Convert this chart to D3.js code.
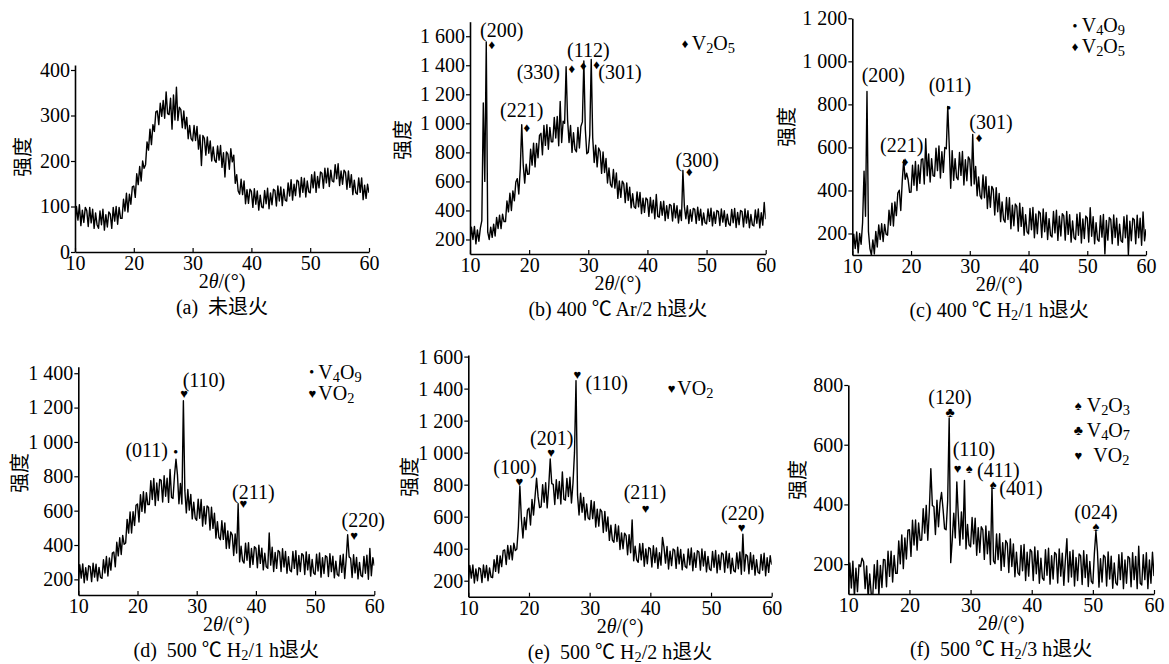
<!DOCTYPE html>
<html>
<head>
<meta charset="utf-8">
<script src="https://cdn.jsdelivr.net/npm/d3@7"></script>
<style>
  body { margin: 0; background: #fff; }
  svg text { font-family: "Liberation Serif", "Noto Sans CJK SC", serif; fill: #000; }
</style>
</head>
<body>
<svg id="chart" width="1169" height="664"></svg>
<script>
// 2theta scan: 10..60 deg, one reading every 0.25 deg
var angleStart = 10, angleStep = 0.25;
var xTicks = [10, 20, 30, 40, 50, 60];

// (a) not annealed
var seriesA = [
  62, 100, 70, 104, 58, 92, 65, 98,
  91, 56, 98, 64, 94, 52, 86, 60,
  52, 90, 60, 94, 48, 82, 55, 88,
  83, 52, 98, 68, 100, 61, 98, 74,
  74, 116, 90, 129, 88, 127, 105, 143,
  145, 120, 172, 148, 188, 156, 200, 184,
  192, 242, 224, 270, 236, 280, 265, 308,
  310, 280, 327, 298, 333, 294, 352, 304,
  302, 338, 270, 345, 290, 362, 289, 318,
  313, 273, 310, 271, 296, 249, 278, 249,
  244, 278, 245, 276, 226, 257, 190, 256,
  250, 213, 253, 217, 244, 200, 231, 202,
  197, 233, 202, 234, 186, 218, 165, 220,
  215, 182, 227, 198, 213, 151, 170, 134,
  127, 160, 126, 156, 106, 137, 107, 138,
  133, 98, 139, 105, 134, 92, 125, 99,
  97, 135, 106, 140, 95, 130, 104, 138,
  135, 101, 145, 112, 143, 102, 138, 114,
  112, 152, 123, 159, 114, 149, 124, 158,
  155, 121, 164, 131, 162, 121, 156, 132,
  130, 170, 141, 176, 131, 166, 141, 176,
  173, 140, 184, 152, 184, 144, 180, 156,
  154, 192, 161, 194, 146, 178, 149, 180,
  175, 138, 178, 142, 170, 126, 158, 130,
  127, 163, 131, 163, 115, 147, 118, 149,
  130
];

// (b) 400 C Ar / 2 h
var seriesB = [
  182, 284, 200, 290, 170, 266, 188, 278,
  330, 1140, 600, 1560, 250, 200, 285, 215,
  306, 224, 352, 276, 368, 275, 374, 323,
  323, 465, 390, 518, 400, 535, 467, 596,
  619, 513, 687, 990, 714, 588, 718, 649,
  651, 821, 712, 864, 700, 862, 763, 917,
  931, 783, 985, 848, 990, 821, 972, 873,
  873, 1041, 899, 1047, 845, 1150, 868, 1015,
  1000, 1390, 1025, 868, 985, 800, 935, 820,
  804, 972, 830, 978, 1010, 1430, 960, 790,
  800, 920, 1440, 900, 730, 850, 700, 830,
  806, 655, 803, 661, 758, 589, 692, 580,
  561, 682, 554, 658, 483, 603, 490, 602,
  583, 454, 590, 469, 560, 418, 515, 425,
  415, 528, 425, 524, 378, 484, 387, 486,
  474, 359, 490, 383, 471, 343, 510, 359,
  353, 461, 367, 463, 330, 432, 345, 442,
  434, 327, 449, 349, 432, 314, 404, 331,
  675, 428, 343, 432, 310, 405, 326, 414,
  407, 310, 423, 332, 408, 299, 382, 315,
  308, 410, 325, 415, 294, 389, 311, 400,
  392, 296, 410, 320, 398, 290, 374, 308,
  296, 407, 315, 413, 283, 387, 302, 400,
  392, 287, 411, 313, 398, 281, 372, 300,
  293, 404, 312, 410, 280, 384, 299, 455,
  340
];

// (c) 400 C H2 / 1 h
var seriesC = [
  110, 197, 130, 207, 110, 200, 150, 250,
  490, 280, 860, 210, 130, 100, 170, 105,
  210, 137, 240, 172, 245, 163, 242, 197,
  192, 308, 238, 341, 235, 346, 283, 388,
  401, 307, 442, 540, 452, 480, 450, 391,
  392, 517, 424, 535, 400, 518, 433, 544,
  547, 430, 640, 468, 570, 439, 548, 469,
  466, 596, 492, 607, 458, 580, 484, 600,
  594, 790, 610, 410, 585, 447, 548, 461,
  450, 576, 470, 581, 425, 543, 445, 556,
  543, 422, 660, 430, 511, 375, 463, 376,
  361, 472, 366, 464, 316, 420, 322, 419,
  404, 286, 413, 301, 386, 255, 347, 265,
  252, 367, 265, 366, 222, 331, 236, 337,
  326, 211, 341, 233, 321, 192, 287, 208,
  198, 316, 217, 321, 180, 291, 199, 303,
  294, 181, 314, 208, 298, 172, 269, 192,
  184, 302, 203, 308, 168, 280, 188, 292,
  282, 169, 302, 196, 287, 160, 258, 180,
  172, 290, 192, 297, 156, 268, 177, 281,
  272, 160, 320, 187, 278, 152, 250, 172,
  164, 283, 183, 289, 105, 260, 169, 274,
  265, 152, 286, 181, 271, 145, 243, 166,
  159, 278, 180, 285, 100, 257, 166, 271,
  264, 152, 285, 180, 271, 145, 300, 166,
  220
];

// (d) 500 C H2 / 1 h
var seriesD = [
  191, 285, 207, 290, 180, 268, 196, 279,
  274, 187, 294, 213, 288, 191, 270, 211,
  206, 314, 237, 333, 220, 324, 254, 353,
  359, 273, 416, 337, 442, 345, 456, 404,
  412, 549, 469, 592, 470, 594, 514, 631,
  639, 534, 693, 596, 710, 587, 705, 635,
  636, 775, 665, 788, 630, 761, 659, 782,
  776, 650, 803, 684, 789, 648, 840, 677,
  671, 805, 900, 808, 640, 758, 639, 1240,
  715, 587, 723, 603, 695, 552, 649, 557,
  544, 667, 556, 665, 510, 625, 522, 628,
  618, 487, 620, 497, 585, 440, 536, 444,
  431, 541, 433, 529, 380, 482, 381, 476,
  459, 339, 465, 353, 640, 302, 393, 309,
  295, 411, 311, 413, 270, 380, 287, 390,
  381, 268, 399, 293, 382, 255, 352, 273,
  264, 470, 283, 387, 246, 356, 264, 368,
  359, 246, 378, 272, 362, 236, 332, 253,
  244, 362, 264, 367, 227, 339, 246, 350,
  341, 228, 360, 255, 345, 219, 316, 237,
  229, 347, 249, 354, 213, 326, 234, 338,
  330, 217, 350, 245, 335, 209, 306, 228,
  220, 339, 241, 346, 205, 317, 460, 331,
  323, 211, 343, 238, 328, 203, 299, 223,
  215, 334, 236, 341, 201, 380, 221, 326,
  280
];

// (e) 500 C H2 / 2 h
var seriesE = [
  202, 295, 216, 298, 186, 273, 200, 281,
  274, 189, 298, 219, 295, 200, 280, 223,
  219, 331, 258, 358, 248, 355, 288, 388,
  392, 301, 420, 335, 418, 330, 434, 388,
  398, 538, 790, 586, 467, 595, 519, 640,
  653, 548, 707, 610, 725, 840, 725, 657,
  661, 800, 690, 812, 655, 786, 960, 807,
  802, 676, 831, 713, 820, 679, 880, 709,
  703, 839, 726, 846, 685, 808, 1000, 1450,
  736, 610, 747, 628, 720, 579, 679, 592,
  582, 702, 588, 693, 535, 647, 541, 646,
  632, 501, 633, 510, 598, 452, 547, 453,
  440, 551, 445, 542, 395, 499, 400, 497,
  482, 362, 488, 375, 580, 324, 415, 330,
  315, 431, 330, 433, 290, 399, 306, 408,
  399, 286, 418, 313, 404, 277, 375, 297,
  470, 408, 310, 414, 273, 385, 294, 398,
  390, 277, 410, 305, 395, 268, 366, 288,
  279, 398, 299, 404, 262, 374, 283, 387,
  379, 266, 398, 292, 382, 255, 352, 273,
  264, 383, 284, 389, 249, 361, 269, 374,
  365, 253, 385, 280, 370, 245, 341, 263,
  255, 374, 275, 380, 240, 490, 260, 364,
  355, 243, 375, 270, 360, 235, 331, 253,
  245, 364, 266, 371, 231, 343, 252, 356,
  300
];

// (f) 500 C H2 / 3 h
var seriesF = [
  102, 204, 120, 210, 90, 186, 108, 198,
  192, 220, 208, 118, 194, 86, 167, 100,
  92, 198, 118, 212, 96, 196, 122, 216,
  214, 124, 243, 159, 243, 140, 229, 169,
  169, 278, 201, 298, 185, 288, 217, 314,
  315, 226, 347, 264, 348, 247, 338, 280,
  281, 386, 304, 397, 280, 379, 520, 396,
  393, 299, 414, 325, 405, 440, 384, 319,
  315, 411, 690, 205, 280, 371, 288, 475,
  360, 263, 375, 284, 480, 251, 333, 265,
  258, 356, 268, 354, 230, 322, 239, 325,
  315, 216, 328, 235, 310, 199, 460, 211,
  202, 301, 215, 302, 179, 272, 192, 279,
  270, 172, 284, 192, 268, 158, 240, 171,
  163, 263, 178, 266, 145, 240, 160, 249,
  242, 145, 258, 168, 245, 136, 220, 153,
  146, 248, 163, 253, 133, 228, 150, 239,
  233, 137, 251, 160, 237, 129, 213, 285,
  140, 242, 157, 247, 127, 222, 145, 234,
  228, 132, 245, 155, 232, 125, 209, 142,
  135, 237, 310, 243, 123, 218, 140, 230,
  223, 127, 241, 150, 227, 119, 204, 137,
  130, 232, 148, 238, 118, 214, 136, 226,
  220, 124, 238, 148, 226, 118, 260, 136,
  130, 232, 148, 238, 118, 214, 136, 240,
  160
];

// peak labels (hkl) and phase markers, in (2theta, intensity)
var notesB = [
  {t: "(200)", x: 15.36, y: 1641}, {t: "(221)", x: 18.74, y: 1090},
  {t: "(330)", x: 21.55, y: 1354}, {t: "(112)", x: 30.0, y: 1504},
  {t: "(301)", x: 35.36, y: 1354}, {t: "(300)", x: 48.43, y: 746}
];
var marksB = [
  {s: "diamond", x: 13.67, y: 1543}, {s: "diamond", x: 19.59, y: 969},
  {s: "diamond", x: 27.2, y: 1378}, {s: "diamond", x: 29.16, y: 1396},
  {s: "diamond", x: 31.42, y: 1405}, {s: "diamond", x: 47.08, y: 670}
];
var legendB = [{s: "diamond", t: "V_2O_5", x: 46.35, tx: 47.49, y: 1550}];

var notesC = [
  {t: "(200)", x: 15.28, y: 936}, {t: "(011)", x: 26.63, y: 890},
  {t: "(221)", x: 18.41, y: 611}, {t: "(301)", x: 33.61, y: 719}
];
var marksC = [
  {s: "dot", x: 26.41, y: 789}, {s: "diamond", x: 18.97, y: 536},
  {s: "diamond", x: 31.57, y: 646}
];
var legendC = [
  {s: "dot", t: "V_4O_9", x: 47.92, tx: 49.05, y: 1169},
  {s: "diamond", t: "V_2O_5", x: 47.92, tx: 49.05, y: 1071}
];

var notesD = [
  {t: "(110)", x: 31.23, y: 1361}, {t: "(011)", x: 21.55, y: 953},
  {t: "(211)", x: 39.56, y: 710}, {t: "(220)", x: 58.14, y: 545}
];
var marksD = [
  {s: "heart", x: 27.86, y: 1283}, {s: "dot", x: 26.45, y: 947},
  {s: "heart", x: 37.87, y: 643}, {s: "heart", x: 56.57, y: 458}
];
var legendD = [
  {s: "dot", t: "V_4O_9", x: 49.42, tx: 50.54, y: 1409},
  {s: "heart", t: "VO_2", x: 49.52, tx: 50.54, y: 1283}
];

var notesE = [
  {t: "(100)", x: 17.7, y: 912}, {t: "(201)", x: 23.74, y: 1090},
  {t: "(110)", x: 32.81, y: 1434}, {t: "(211)", x: 39.12, y: 756},
  {t: "(220)", x: 55.22, y: 621}
];
var marksE = [
  {s: "heart", x: 18.4, y: 823}, {s: "heart", x: 23.63, y: 1000},
  {s: "heart", x: 27.96, y: 1486}, {s: "heart", x: 39.23, y: 652},
  {s: "heart", x: 55.06, y: 534}
];
var legendE = [{s: "heart", t: "VO_2", x: 43.52, tx: 44.44, y: 1402}];

var notesF = [
  {t: "(120)", x: 26.63, y: 761}, {t: "(110)", x: 30.56, y: 587},
  {t: "(411)", x: 34.53, y: 514}, {t: "(401)", x: 38.25, y: 455},
  {t: "(024)", x: 50.51, y: 374}
];
var marksF = [
  {s: "club", x: 26.63, y: 708}, {s: "heart", x: 27.89, y: 522},
  {s: "spade", x: 29.79, y: 520}, {s: "spade", x: 33.72, y: 467},
  {s: "spade", x: 50.51, y: 327}
];
var legendF = [
  {s: "spade", t: "V_2O_3", x: 47.62, tx: 48.99, y: 733},
  {s: "club", t: "V_4O_7", x: 47.62, tx: 48.99, y: 648},
  {s: "heart", t: "VO_2", x: 47.62, tx: 50.07, y: 564}
];

var glyphs = {diamond: "\u2666", dot: "\u25CF", heart: "\u2665", spade: "\u2660", club: "\u2663"};
var glyphSize = {diamond: 13, dot: 8, heart: 13, spade: 13, club: 14};

var panels = [
  {name: "a", series: seriesA, notes: [], marks: [], legend: [], caption: "(a)  未退火",
   box: [75, 369, 65, 252], yDomain: [0, 411], yTicks: [0, 100, 200, 300, 400], yTitle: [23, 157]},
  {name: "b", series: seriesB, notes: notesB, marks: marksB, legend: legendB, caption: "(b) 400 ℃ Ar/2 h退火",
   box: [470, 765.7, 21.7, 254], yDomain: [100, 1700], yTicks: [200, 400, 600, 800, 1000, 1200, 1400, 1600], yTitle: [403, 140]},
  {name: "c", series: seriesC, notes: notesC, marks: marksC, legend: legendC, caption: "(c) 400 ℃ H_2/1 h退火",
   box: [852.3, 1146, 18.3, 255], yDomain: [100, 1200], yTicks: [200, 400, 600, 800, 1000, 1200], yTitle: [787, 127]},
  {name: "d", series: seriesD, notes: notesD, marks: marksD, legend: legendD, caption: "(d)  500 ℃ H_2/1 h退火",
   box: [78.3, 374.3, 366.7, 595], yDomain: [109, 1438], yTicks: [200, 400, 600, 800, 1000, 1200, 1400], yTitle: [20, 473]},
  {name: "e", series: seriesE, notes: notesE, marks: marksE, legend: legendE, caption: "(e)  500 ℃ H_2/2 h退火",
   box: [468.3, 771.7, 355, 596.7], yDomain: [100, 1610], yTicks: [200, 400, 600, 800, 1000, 1200, 1400, 1600], yTitle: [410, 477]},
  {name: "f", series: seriesF, notes: notesF, marks: marksF, legend: legendF, caption: "(f)  500 ℃ H_2/3 h退火",
   box: [848.3, 1154, 385, 594], yDomain: [100, 800], yTicks: [200, 400, 600, 800], yTitle: [798, 480]}
];

var svg = d3.select("#chart");
var fmt = d3.formatLocale({decimal: ".", thousands: " ", grouping: [3], currency: ["", ""]}).format(",d");
var serif = "Liberation Serif, Noto Sans CJK SC, serif";
var fontSize = 20;

// writes "V_2O_5" style strings with subscripts
function richText(sel, str) {
  var parts = str.split(/(_\d)/);
  parts.forEach(function(p) {
    if (!p) return;
    if (p[0] === "_") {
      sel.append("tspan").attr("font-size", "0.72em").attr("baseline-shift", "-22%").text(p.slice(1));
    } else {
      sel.append("tspan").text(p);
    }
  });
}

panels.forEach(function(p) {
  var x = d3.scaleLinear().domain([10, 60]).range([p.box[0], p.box[1]]);
  var y = d3.scaleLinear().domain(p.yDomain).range([p.box[3], p.box[2]]);
  var g = svg.append("g");

  svg.append("clipPath").attr("id", "clip-" + p.name)
    .append("rect")
    .attr("x", p.box[0]).attr("y", p.box[2] - 5)
    .attr("width", p.box[1] - p.box[0]).attr("height", p.box[3] - p.box[2] + 5);

  var line = d3.line()
    .x(function(d, i) { return x(angleStart + i * angleStep); })
    .y(function(d) { return y(d); });

  g.append("path")
    .datum(p.series)
    .attr("clip-path", "url(#clip-" + p.name + ")")
    .attr("fill", "none")
    .attr("stroke", "#000")
    .attr("stroke-width", 1.4)
    .attr("stroke-linejoin", "round")
    .attr("d", line);

  var xAxis = g.append("g")
    .attr("transform", "translate(0," + p.box[3] + ")")
    .call(d3.axisBottom(x).tickValues(xTicks).tickSizeInner(-4).tickSizeOuter(0).tickPadding(4));
  var yAxis = g.append("g")
    .attr("transform", "translate(" + p.box[0] + ",0)")
    .call(d3.axisLeft(y).tickValues(p.yTicks).tickFormat(fmt).tickSizeInner(4).tickSizeOuter(0).tickPadding(1));

  [xAxis, yAxis].forEach(function(a) {
    a.attr("font-family", serif).attr("font-size", fontSize);
    a.select(".domain").attr("stroke-width", 1.6);
    a.selectAll(".tick line").attr("stroke-width", 1.2);
    a.selectAll(".tick text").attr("fill", "#000");
  });

  // axis titles
  g.append("text")
    .attr("transform", "translate(" + p.yTitle[0] + "," + p.yTitle[1] + ") rotate(-90)")
    .attr("text-anchor", "middle")
    .attr("dy", "0.35em")
    .attr("font-size", fontSize)
    .text("强度");

  var midX = (p.box[0] + p.box[1]) / 2;
  var xt = g.append("text")
    .attr("x", midX).attr("y", p.box[3] + 36)
    .attr("text-anchor", "middle")
    .attr("font-size", fontSize);
  xt.append("tspan").text("2");
  xt.append("tspan").attr("font-style", "italic").text("θ");
  xt.append("tspan").text("/(°)");

  var cap = g.append("text")
    .attr("x", midX).attr("y", p.box[3] + 62)
    .attr("text-anchor", "middle")
    .attr("font-size", fontSize)
    .style("white-space", "pre");
  richText(cap, p.caption);

  // hkl labels
  g.selectAll(".note")
    .data(p.notes)
    .enter().append("text")
    .attr("x", function(d) { return x(d.x); })
    .attr("y", function(d) { return y(d.y); })
    .attr("dy", "0.35em")
    .attr("text-anchor", "middle")
    .attr("font-size", fontSize)
    .text(function(d) { return d.t; });

  // phase markers
  g.selectAll(".mark")
    .data(p.marks.concat(p.legend))
    .enter().append("text")
    .attr("x", function(d) { return x(d.x); })
    .attr("y", function(d) { return y(d.y); })
    .attr("dy", "0.35em")
    .attr("text-anchor", "middle")
    .attr("font-family", "DejaVu Sans")
    .attr("font-size", function(d) { return glyphSize[d.s]; })
    .text(function(d) { return glyphs[d.s]; });

  // legend names
  g.selectAll(".legend")
    .data(p.legend)
    .enter().append("text")
    .attr("x", function(d) { return x(d.tx); })
    .attr("y", function(d) { return y(d.y); })
    .attr("dy", "0.35em")
    .attr("font-size", fontSize)
    .each(function(d) { richText(d3.select(this), d.t); });
});
</script>
</body>
</html>
